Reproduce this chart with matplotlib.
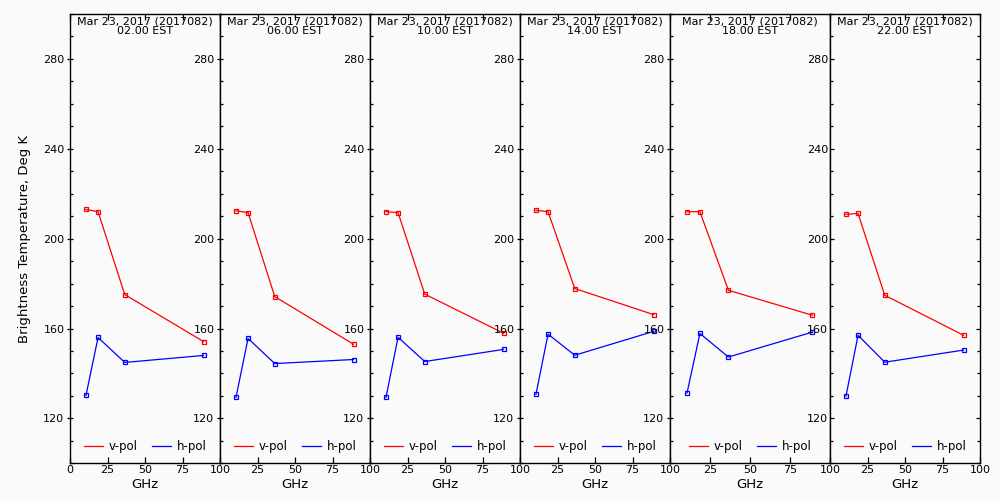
import matplotlib
matplotlib.use("Agg")
import matplotlib.pyplot as plt
from matplotlib.lines import Line2D
from matplotlib.ticker import MultipleLocator

# --- данные: частоты каналов и яркостные температуры ---
freq_ghz = [10.65, 18.7, 36.5, 89.0]
date_label = "Mar 23, 2017 (2017082)"
times = ["02.00 EST", "06.00 EST", "10.00 EST", "14.00 EST", "18.00 EST", "22.00 EST"]

v_pol = [
    [213.0, 212.0, 175.1, 154.2],
    [212.4, 211.6, 174.2, 153.0],
    [212.0, 211.6, 175.3, 157.9],
    [212.6, 212.0, 177.8, 166.2],
    [212.0, 212.0, 177.0, 165.9],
    [210.8, 211.2, 174.8, 157.0],
]
h_pol = [
    [130.2, 156.0, 144.9, 148.0],
    [129.3, 155.6, 144.4, 146.2],
    [129.3, 156.1, 145.3, 150.7],
    [130.7, 157.5, 148.1, 158.7],
    [131.3, 157.8, 147.3, 158.4],
    [129.9, 157.0, 145.0, 150.4],
]

bg = "#fafafa"
fig = plt.figure(figsize=(10, 5), dpi=100, facecolor=bg)

# положение панелей в пикселях (пятая шире остальных)
lefts = [70, 220, 370, 520, 670, 830]
widths = [150, 150, 150, 150, 160, 150]
bottom, top = 463.3, 14
n = len(times)

for i in range(n):
    ax = fig.add_axes([lefts[i] / 1000, 1 - bottom / 500,
                       widths[i] / 1000, (bottom - top) / 500])
    ax.set_facecolor(bg)
    ax.plot(freq_ghz, v_pol[i], color="red", lw=0.9, marker="s", ms=3.5,
            mfc="none", mec="red", mew=0.9)
    ax.plot(freq_ghz, h_pol[i], color="blue", lw=0.9, marker="s", ms=3.5,
            mfc="none", mec="blue", mew=0.9)

    ax.set_xlim(0, 100)
    ax.set_ylim(100, 300)
    ax.set_xticks([0, 25, 50, 75, 100])
    if i == 0:
        ax.set_xticklabels(["0", "25", "50", "75", "100"])
    else:
        ax.set_xticklabels(["", "25", "50", "75", "100"])
    ax.set_yticks([120, 160, 200, 240, 280])
    ax.yaxis.set_minor_locator(MultipleLocator(10))
    last = (i == n - 1)
    ax.tick_params(axis="both", which="both", top=True, right=last,
                   direction="in", labelsize=8, colors="black", pad=1.5)
    ax.tick_params(axis="y", which="major", left=True, direction="inout",
                   length=5, width=0.9)
    if last:
        ax.tick_params(axis="y", which="major", right=True, direction="in",
                       length=3)
    ax.tick_params(axis="y", which="minor", length=2.2, width=0.9)
    ax.tick_params(axis="x", which="major", length=4.5, width=0.9)
    for s in ax.spines.values():
        s.set_linewidth(1.0)

    ax.set_xlabel("GHz", fontsize=9.5, labelpad=2)
    if i == 0:
        ax.set_ylabel("Brightness Temperature, Deg K", fontsize=9.5, labelpad=9)

    ax.text(0.5, 0.995, date_label + "\n" + times[i], transform=ax.transAxes,
            ha="center", va="top", fontsize=8, linespacing=0.95)

    handles = [Line2D([], [], color="red", lw=0.9),
               Line2D([], [], color="blue", lw=0.9)]
    ax.legend(handles, ["v-pol", "h-pol"], loc="lower center", ncol=2,
              frameon=False, fontsize=8.5, handlelength=1.6,
              handletextpad=0.5, columnspacing=1.2,
              bbox_to_anchor=(0.5, 0.0))

fig.savefig("out.png", dpi=100, facecolor=bg)
